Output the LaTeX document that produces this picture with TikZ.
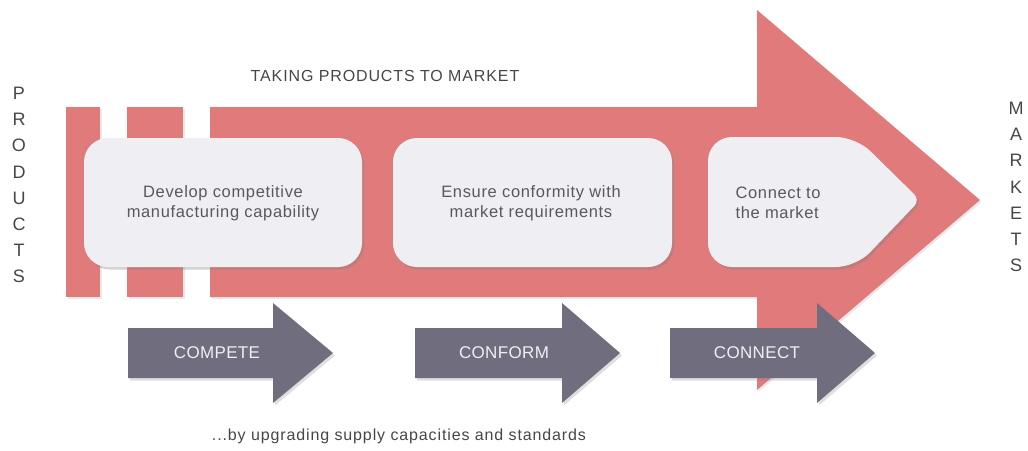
\documentclass[tikz,border=0pt]{standalone}
\usepackage{fontspec}
\setmainfont{Liberation Sans}
\usetikzlibrary{shadows}
\definecolor{redarrow}{RGB}{225,122,123}
\definecolor{boxfill}{RGB}{239,239,243}
\definecolor{grayarrow}{RGB}{112,110,126}
\definecolor{txtgray}{RGB}{88,88,94}
\definecolor{lbltxt}{RGB}{70,70,74}
\tikzset{
  redshape/.style={fill=redarrow, drop shadow={opacity=0.18, shadow xshift=1.5pt, shadow yshift=-2pt}},
  boxshape/.style={fill=boxfill, rounded corners=24pt, drop shadow={opacity=0.35, shadow xshift=2pt, shadow yshift=-2.5pt}},
  grayshape/.style={fill=grayarrow, drop shadow={opacity=0.25, shadow xshift=2pt, shadow yshift=-2.5pt}},
  boxtext/.style={text=txtgray, font=\fontsize{16.5}{20}\selectfont\addfontfeature{LetterSpace=4}, align=center},
  arrowtext/.style={text=boxfill, font=\fontsize{17}{20}\selectfont\addfontfeature{LetterSpace=2}},
  sidetext/.style={text=lbltxt, font=\fontsize{18}{26.2}\selectfont, align=center},
  captext/.style={text=lbltxt, font=\fontsize{16}{20}\selectfont\addfontfeature{LetterSpace=5.5}}
}
\begin{document}
\begin{tikzpicture}[x=1pt,y=-1pt]
\useasboundingbox (0,0) rectangle (1028,450);
% big red arrow
\path[redshape] (66,107) rectangle (100,297);
\path[redshape] (127,107) rectangle (183,297);
\path[redshape] (210,107) -- (757,107) -- (757,10) -- (980,200) -- (757,390) -- (757,297) -- (210,297) -- cycle;
% boxes
\path[boxshape] (84,138) rectangle (362,267);
\path[boxshape] (393,138) rectangle (672,267);
\path[boxshape] (708,137) [rounded corners=20pt] -- (856,137) [rounded corners=8pt] -- (920,200) [rounded corners=20pt] -- (856,267) [rounded corners=24pt] -- (708,267) -- cycle;
\node[boxtext] (t1) at (223,203) {Develop competitive\\manufacturing capability};
\node[boxtext] (t2) at (531,203) {Ensure conformity with\\market requirements};
\node[boxtext, align=left, anchor=west] (t3) at (732,203) {Connect to\\the market};
% gray arrows
\path[grayshape] (128,328) -- (273,328) -- (273,303) -- (333,353) -- (273,403) -- (273,378) -- (128,378) -- cycle;
\path[grayshape] (415,328) -- (562,328) -- (562,303) -- (620,353) -- (562,403) -- (562,378) -- (415,378) -- cycle;
\path[grayshape] (670,328) -- (817,328) -- (817,303) -- (875,353) -- (817,403) -- (817,378) -- (670,378) -- cycle;
\node[arrowtext] (a1) at (217,353) {COMPETE};
\node[arrowtext] (a2) at (504,353) {CONFORM};
\node[arrowtext] (a3) at (757,353) {CONNECT};
% labels
\node[captext] (top) at (385,76) {TAKING PRODUCTS TO MARKET};
\node[captext] (bottom) at (399,436) {...by upgrading supply capacities and standards};
\node[sidetext] (prod) at (19,185) {P\\R\\O\\D\\U\\C\\T\\S};
\node[sidetext] (mark) at (1016,187) {M\\A\\R\\K\\E\\T\\S};
\end{tikzpicture}
\end{document}
